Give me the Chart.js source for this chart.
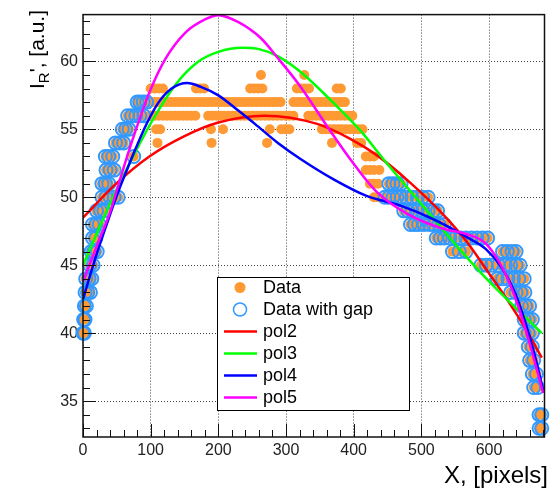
<!DOCTYPE html>
<html>
<head>
<meta charset="utf-8">
<title>I_R' vs X</title>
<script src="https://cdn.jsdelivr.net/npm/chart.js@4/dist/chart.umd.min.js"></script>
<style>
  html, body { margin: 0; padding: 0; background: #fff; }
  #wrap { width: 553px; height: 492px; }
</style>
</head>
<body>
<div id="wrap"><canvas id="chart" width="553" height="492"></canvas></div>
<script>
//--- Data
var xTicks = [0, 100, 200, 300, 400, 500, 600];
var yTicks = [35, 40, 45, 50, 55, 60];
var xRange = [0, 682];
var yRange = [32.36, 63.44];

// measured points [x, y]
var dataPoints = [
    [0,40],[2,40],
    [1,41],[3,41],
    [2,42],[5,42],
    [3,43],[7,43],[11,43],
    [4,44],[9,44],[13,44],
    [10,45],[15,45],
    [12,46],[16,46],[21,46],
    [14,47],[19,47],
    [14,48],[19,48],[24,48],
    [20,49],[26,49],[31,49],
    [28,50],[34,50],[40,50],[46,50],[52,50],
    [28,51],[33,51],[38,51],
    [34,52],[40,52],[46,52],
    [33,53],[38,53],[44,53],[75,53],
    [48,54],[54,54],[60,54],
    [58,55],[63,55],[68,55],
    [66,56],[72,56],[78,56],[84,56],[90,56],
    [80,57],[84,57],[89,57],[94,57],
    // middle, y = 59 / 58
    [263,59],[327,59],
    [100,58],[106,58],[112,58],[118,58],[167,58],[173,58],[179,58],
    [247,58],[253,58],[259,58],[265,58],[316,58],[322,58],[328,58],[334,58],[375,58],[381,58],
    // y = 57
    [100,57],[106,57],[112,57],[118,57],[124,57],[130,57],[136,57],[142,57],[148,57],[154,57],
    [160,57],[166,57],[172,57],[178,57],[184,57],[190,57],[196,57],[202,57],[208,57],[214,57],
    [220,57],[226,57],[232,57],[238,57],[244,57],[250,57],[256,57],[262,57],[268,57],[274,57],
    [280,57],[286,57],[292,57],
    [311,57],[317,57],[323,57],[329,57],[335,57],[341,57],[347,57],[353,57],[359,57],[365,57],
    [371,57],[377,57],[383,57],[387,57],
    // y = 56
    [100,56],[106,56],[112,56],[118,56],[124,56],[130,56],[136,56],[142,56],[148,56],[154,56],
    [160,56],[166,56],
    [185,56],[191,56],[197,56],[203,56],[209,56],[215,56],[221,56],[227,56],[233,56],[239,56],
    [245,56],[251,56],[257,56],[263,56],[269,56],[275,56],[281,56],[287,56],[293,56],[299,56],
    [305,56],[311,56],
    [333,56],[339,56],[345,56],[351,56],[357,56],[363,56],[369,56],[375,56],[381,56],[387,56],
    [393,56],[398,56],
    // y = 55 / 54
    [108,55],[114,55],[189,55],[207,55],[276,55],[293,55],[299,55],[305,55],
    [353,55],[359,55],[365,55],[371,55],[377,55],[383,55],[389,55],[395,55],[401,55],[407,55],[413,55],
    [110,54],[190,54],[272,54],[368,54],[405,54],[411,54],
    // falling edge
    [418,53],[424,53],[430,53],
    [418,52],[424,52],[430,52],[438,52],
    [424,51],[430,51],[436,51],[452,51],[458,51],[464,51],[470,51],
    [430,50],[436,50],[446,50],[452,50],[458,50],[464,50],[470,50],[478,50],[486,50],[494,50],[502,50],[510,50],
    [474,49],[480,49],[486,49],[494,49],[502,49],[510,49],[518,49],[524,49],
    [484,48],[490,48],[496,48],[504,48],[512,48],[518,48],[526,48],[534,48],
    [522,47],[528,47],[534,47],[542,47],[550,47],[558,47],[566,47],[574,47],[582,47],[590,47],[598,47],
    [546,46],[556,46],[566,46],[620,46],[627,46],[634,46],[640,46],
    [588,45],[596,45],[604,45],[614,45],[624,45],[632,45],[640,45],[646,45],
    [612,44],[620,44],[628,44],[636,44],[644,44],[652,44],
    [632,43],[640,43],[647,43],[653,43],
    [648,42],[654,42],[660,42],
    [652,41],[658,41],[664,41],
    [652,40],[658,40],[664,40],
    [658,39],[664,39],
    [660,38],[666,38],
    [664,37],[670,37],
    [666,36],[672,36],
    [674,34],[678,34],
    [674,33],[678,33]
];
// points inside this x interval are missing from "Data with gap"
var gapFrom = 98;
var gapTo = 445;

// fitted curves [x, y]
var pol2 = [[0,48.5],[49,51.0],[98,53.0],[150,54.5],[200,55.5],[268,56.0],[346,55.4],[395,54.3],
    [434,53.1],[483,51.1],[531,48.8],[566,46.8],[600,44.4],[629,42.3],[653,40.4],[678,38.2]];
var pol3 = [[0,45.0],[20,47.3],[49,50.5],[73,52.9],[102,55.6],[137,58.3],[171,60.0],[200,60.7],
    [235,61.0],[260,60.9],[287,60.4],[322,59.2],[371,56.9],[410,54.9],[444,52.8],[483,50.5],
    [517,48.5],[556,46.2],[604,43.6],[643,41.7],[678,40.0]];
var pol4 = [[0,42.5],[20,45.8],[35,48.0],[49,50.0],[64,51.9],[78,53.6],[93,55.3],[112,57.0],
    [131,58.0],[154,58.4],[175,58.1],[200,57.5],[229,56.4],[254,55.4],[288,54.0],[322,52.8],
    [371,51.3],[419,50.1],[468,49.4],[517,48.4],[566,47.1],[595,46.2],[619,44.8],[639,42.9],
    [653,40.9],[668,38.3],[680,35.8]];
var pol5 = [[0,43.8],[25,47.0],[40,48.9],[54,51.2],[73,54.2],[98,57.7],[122,60.2],[151,62.1],
    [181,63.1],[200,63.4],[229,62.9],[263,61.7],[287,60.3],[322,58.1],[361,55.2],[395,52.8],
    [434,50.4],[482,48.7],[531,47.7],[566,47.3],[595,46.6],[624,44.4],[643,42.0],[658,39.6],[680,35.6]];

//--- Styles
var FONT = '"Liberation Sans", Arial, Helvetica, sans-serif';
var ORANGE = 'rgb(255,153,51)';
var AZURE = 'rgb(51,153,255)';

function toXY(list) {
    return list.map(function (p) { return { x: p[0], y: p[1] }; });
}

var withGap = dataPoints.filter(function (p) { return p[0] < gapFrom || p[0] > gapTo; });

var legendItems = [
    { label: 'Data', kind: 'dot', color: ORANGE },
    { label: 'Data with gap', kind: 'ring', color: AZURE },
    { label: 'pol2', kind: 'line', color: '#ff0000' },
    { label: 'pol3', kind: 'line', color: '#00ff00' },
    { label: 'pol4', kind: 'line', color: '#0000ff' },
    { label: 'pol5', kind: 'line', color: '#ff00ff' }
];

function fitLine(label, list, color, order) {
    return {
        label: label, data: toXY(list), showLine: true, borderColor: color,
        borderWidth: 2.5, pointRadius: 0, cubicInterpolationMode: 'monotone',
        fill: false, order: order
    };
}

//--- Frame, ticks, legend and titles in ROOT style
var rootPlugin = {
    id: 'rootFrame',
    afterDatasetsDraw: function (chart) {
        var ctx = chart.ctx;
        var a = chart.chartArea;
        var xs = chart.scales.x, ys = chart.scales.y;
        var v, p, len;
        ctx.save();
        ctx.strokeStyle = '#111';
        ctx.lineWidth = 1;
        ctx.beginPath();
        for (v = xRange[0]; v <= xRange[1]; v += 20) {
            p = Math.round(xs.getPixelForValue(v)) + 0.5;
            len = (v % 100 === 0) ? 13 : 7;
            ctx.moveTo(p, a.bottom);
            ctx.lineTo(p, a.bottom - len);
        }
        for (v = Math.ceil(yRange[0]); v <= yRange[1]; v += 1) {
            p = Math.round(ys.getPixelForValue(v)) + 0.5;
            len = (v % 5 === 0) ? 13 : 7;
            ctx.moveTo(a.left, p);
            ctx.lineTo(a.left + len, p);
        }
        ctx.stroke();
        ctx.lineWidth = 1.5;
        ctx.strokeRect(a.left, a.top, a.right - a.left, a.bottom - a.top);

        // legend box
        var bx = 217, by = 277, bw = 192, bh = 133;
        ctx.fillStyle = '#fff';
        ctx.fillRect(bx, by, bw, bh);
        ctx.lineWidth = 1;
        ctx.strokeStyle = '#000';
        ctx.strokeRect(bx + 0.5, by + 0.5, bw, bh);
        ctx.font = '18px ' + FONT;
        ctx.textBaseline = 'middle';
        ctx.textAlign = 'left';
        legendItems.forEach(function (it, i) {
            var cy = by + 10.5 + i * 22;
            if (it.kind === 'dot') {
                ctx.fillStyle = it.color;
                ctx.beginPath(); ctx.arc(240, cy, 5.5, 0, Math.PI * 2); ctx.fill();
            } else if (it.kind === 'ring') {
                ctx.strokeStyle = it.color; ctx.lineWidth = 1.5;
                ctx.beginPath(); ctx.arc(240, cy, 6.5, 0, Math.PI * 2); ctx.stroke();
            } else {
                ctx.strokeStyle = it.color; ctx.lineWidth = 2.5;
                ctx.beginPath(); ctx.moveTo(224, cy); ctx.lineTo(257, cy); ctx.stroke();
            }
            ctx.fillStyle = '#000';
            ctx.fillText(it.label, 263, cy + 1);
        });

        // axis titles
        ctx.fillStyle = '#000';
        ctx.textBaseline = 'alphabetic';
        ctx.textAlign = 'right';
        ctx.font = '24px ' + FONT;
        ctx.fillText('X, [pixels]', 548, 483);

        ctx.translate(43.5, 10);
        ctx.rotate(-Math.PI / 2);
        ctx.textAlign = 'left';
        var big = '21px ' + FONT, small = '15px ' + FONT;
        ctx.font = big; var w1 = ctx.measureText('I').width;
        ctx.font = small; var w2 = ctx.measureText('R').width;
        ctx.font = big; var w3 = ctx.measureText("', [a.u.]").width;
        var u = -(w1 + w2 + w3);
        ctx.font = big; ctx.fillText('I', u, 0); u += w1;
        ctx.font = small; ctx.fillText('R', u, 5); u += w2;
        ctx.font = big; ctx.fillText("', [a.u.]", u, 0);
        ctx.restore();
    }
};

//--- Chart
var ctx = document.getElementById('chart');
var chart = new Chart(ctx, {
    type: 'scatter',
    data: {
        datasets: [
            { label: 'Data', data: toXY(dataPoints), backgroundColor: ORANGE, borderWidth: 0,
              pointRadius: 5, clip: false, order: 10 },
            { label: 'Data with gap', data: toXY(withGap), backgroundColor: 'rgba(0,0,0,0)',
              borderColor: AZURE, borderWidth: 2, pointRadius: 6.5, clip: false, order: 9 },
            fitLine('pol2', pol2, '#ff0000', 4),
            fitLine('pol3', pol3, '#00ff00', 3),
            fitLine('pol4', pol4, '#0000ff', 2),
            fitLine('pol5', pol5, '#ff00ff', 1)
        ]
    },
    options: {
        responsive: false,
        animation: false,
        devicePixelRatio: 1,
        layout: { padding: { top: 10, right: 4, left: 0, bottom: 0 } },
        plugins: { legend: { display: false }, tooltip: { enabled: false } },
        scales: {
            x: {
                type: 'linear', min: xRange[0], max: xRange[1],
                afterFit: function (s) { s.height = 55; },
                afterBuildTicks: function (s) { s.ticks = xTicks.map(function (v) { return { value: v }; }); },
                grid: { color: '#444', lineWidth: 1, drawTicks: false },
                border: { display: false, dash: [1, 2] },
                ticks: { color: '#222', padding: 4, maxRotation: 0, autoSkip: false,
                         font: { family: FONT, size: 16 } }
            },
            y: {
                type: 'linear', min: yRange[0], max: yRange[1],
                afterFit: function (s) { s.width = 83; },
                afterBuildTicks: function (s) { s.ticks = yTicks.map(function (v) { return { value: v }; }); },
                grid: { color: '#444', lineWidth: 1, drawTicks: false },
                border: { display: false, dash: [1, 2] },
                ticks: { color: '#222', padding: 5, autoSkip: false,
                         font: { family: FONT, size: 16 } }
            }
        }
    },
    plugins: [rootPlugin]
});
console.log('chart ready');
</script>
</body>
</html>
